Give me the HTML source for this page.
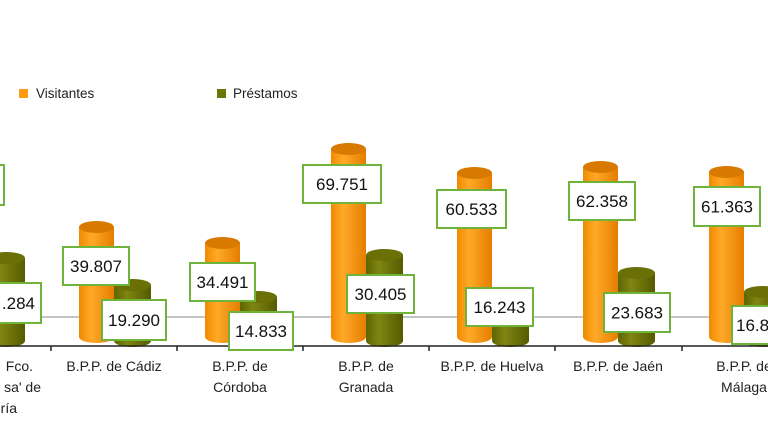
<!DOCTYPE html>
<html><head><meta charset="utf-8"><style>
html,body{margin:0;padding:0;background:#fff;width:768px;height:432px;overflow:hidden}
text{font-family:"Liberation Sans",Arial,sans-serif}
</style></head><body>
<svg width="768" height="432" viewBox="0 0 768 432" xmlns="http://www.w3.org/2000/svg">
<defs>
<linearGradient id="og" x1="0" x2="1"><stop offset="0" stop-color="#f08a00"/><stop offset="0.35" stop-color="#ffa928"/><stop offset="1" stop-color="#e57d00"/></linearGradient>
<linearGradient id="vg" x1="0" x2="1"><stop offset="0" stop-color="#5e6400"/><stop offset="0.35" stop-color="#7f8612"/><stop offset="1" stop-color="#555a00"/></linearGradient>
</defs>
<rect x="19" y="89" width="9" height="9" fill="#ff9a10"/>
<text x="36" y="98" font-size="13.5" fill="#222">Visitantes</text>
<rect x="217" y="89" width="9" height="9" fill="#6e7408"/>
<text x="233" y="98" font-size="13.5" fill="#222">Préstamos</text>
<line x1="0" y1="317" x2="768" y2="317" stroke="#8a8a8a" stroke-width="1"/>
<g id="bars"></g>
<line x1="0" y1="346" x2="768" y2="346" stroke="#222" stroke-width="1.5"/>
<g stroke="#222" stroke-width="1.5">
<line x1="51" y1="346" x2="51" y2="351"/><line x1="177" y1="346" x2="177" y2="351"/><line x1="303" y1="346" x2="303" y2="351"/><line x1="429" y1="346" x2="429" y2="351"/><line x1="555" y1="346" x2="555" y2="351"/><line x1="682" y1="346" x2="682" y2="351"/>
</g>
<g font-size="14" fill="#222" text-anchor="middle">
<text x="33" y="371" text-anchor="end">Fco.</text>
<text x="41" y="392" text-anchor="end">sa' de</text>
<text x="17" y="413" text-anchor="end">ría</text>
<text x="114" y="371">B.P.P. de Cádiz</text>
<text x="240" y="371">B.P.P. de</text><text x="240" y="392">Córdoba</text>
<text x="366" y="371">B.P.P. de</text><text x="366" y="392">Granada</text>
<text x="492" y="371">B.P.P. de Huelva</text>
<text x="618" y="371">B.P.P. de Jaén</text>
<text x="744" y="371">B.P.P. de</text><text x="744" y="392">Málaga</text>
</g>
<g id="labels" font-size="17" fill="#111" text-anchor="middle"></g>
</svg>
<script>
var ns="http://www.w3.org/2000/svg";
function el(p,t,a){var e=document.createElementNS(ns,t);for(var k in a)e.setAttribute(k,a[k]);p.appendChild(e);return e;}
var bars=document.getElementById('bars'),labs=document.getElementById('labels');
function cyl(x,w,top,bot,fill,topc){
 el(bars,'rect',{x:x,y:top,width:w,height:bot-top,fill:fill});
 el(bars,'ellipse',{cx:x+w/2,cy:bot,rx:w/2,ry:6,fill:fill});
 el(bars,'ellipse',{cx:x+w/2,cy:top,rx:w/2,ry:6,fill:topc});
}
var g=[[-12,60,258],[114,227,285],[240,243,297],[366,149,255],[492,173,293],[618,167,273],[744,172,292]];
g.forEach(function(d){
 cyl(d[0],37,d[2],341,'url(#vg)','#6b7006');
 cyl(d[0]-35,35,d[1],337,'url(#og)','#d97a00');
});
var L=[[-30,165,34,"",40],[-30,283,71,".284",40],[63,247,66,"39.807",38],[102,300,64,"19.290",40],[190,263,65,"34.491",38],[229,312,64,"14.833",38],[303,165,78,"69.751",38],[347,275,67,"30.405",38],[437,190,69,"60.533",38],[466,288,67,"16.243",38],[569,182,66,"62.358",38],[604,293,66,"23.683",39],[694,187,66,"61.363",39],[732,306,70,"16.8",38]];
L.forEach(function(d){
 el(labs,'rect',{x:d[0],y:d[1],width:d[2],height:d[4],fill:'#fff',stroke:'#6fb33a','stroke-width':2});
 var t=el(labs,'text',{x:d[0]+d[2]/2,y:d[1]+d[4]/2+6});
 if(d[3]===".284"){t.setAttribute('text-anchor','end');t.setAttribute('x',d[0]+d[2]-6);}
 if(d[3]==="16.8"){t.setAttribute('text-anchor','start');t.setAttribute('x',d[0]+4);}
 t.textContent=d[3];
});
</script>
</body></html>
